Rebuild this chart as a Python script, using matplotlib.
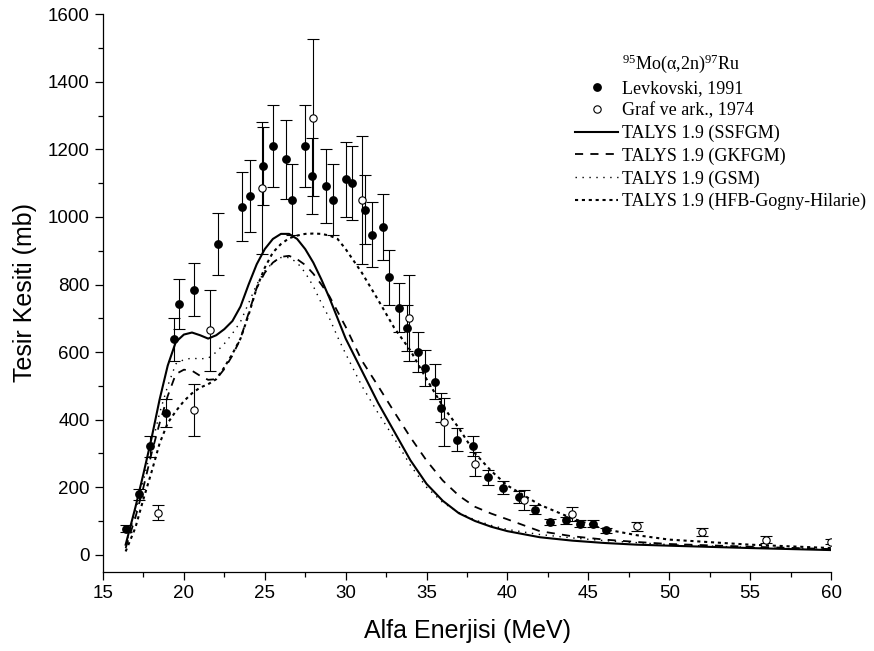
import numpy as np
import matplotlib as mpl
import matplotlib.pyplot as plt
from matplotlib.lines import Line2D
from matplotlib.ticker import MultipleLocator

mpl.rc('font', family='Liberation Sans', size=13.5)
mpl.rc('mathtext', fontset='custom', rm='Liberation Serif', it='Liberation Serif:italic')

#%% data
# Levkovski, 1991
lev_x = [16.4, 17.25, 17.9, 18.9, 19.4, 19.7, 20.6, 22.1, 23.6, 24.1, 24.9, 25.5, 26.3, 26.7,
         27.5, 27.9, 28.8, 29.2, 30.0, 30.4, 31.2, 31.6, 32.3, 32.7, 33.3, 33.8, 34.5, 34.9,
         35.5, 35.9, 36.9, 37.9, 38.8, 39.7, 40.7, 41.7, 42.6, 43.6, 44.5, 45.3, 46.1]
lev_y = [77, 179, 321, 420, 638, 743, 785, 921, 1031, 1062, 1151, 1211, 1171, 1051,
         1211, 1121, 1091, 1051, 1111, 1101, 1021, 948, 970, 821, 732, 671, 600, 553,
         513, 436, 341, 323, 229, 199, 171, 133, 97, 102, 92, 92, 72]
lev_err = [10, 16, 30, 42, 64, 74, 78, 92, 103, 106, 115, 121, 117, 105,
           121, 112, 109, 105, 111, 110, 102, 95, 97, 82, 73, 67, 60, 54,
           51, 43, 34, 30, 22, 20, 17, 13, 10, 10, 10, 10, 8]

# Graf ve ark., 1974
graf_x = [18.4, 20.6, 21.6, 24.8, 28.0, 31.0, 33.9, 36.1, 38.0, 41.0, 44.0, 48.0, 52.0, 56.0, 60.0]
graf_y = [125, 430, 665, 1086, 1294, 1051, 701, 393, 268, 163, 121, 84, 67, 45, 39]
graf_err = [22, 77, 120, 195, 233, 189, 126, 70, 35, 29, 20, 14, 12, 10, 8]

# TALYS 1.9 curves
e_talys = [16.4, 17.0, 17.5, 18.0, 18.5, 19.0, 19.5, 20.0, 20.5, 21.0, 21.5, 22.0, 22.5, 23.0,
           23.5, 24.0, 24.5, 25.0, 25.5, 26.0, 26.5, 27.0, 27.5, 28.0, 28.5, 29.0, 29.5, 30.0,
           31, 32, 33, 34, 35, 36, 37, 38, 39, 40, 42, 44, 46, 48, 50, 55, 60]
ssfgm = [30, 140, 240, 345, 460, 560, 630, 652, 658, 650, 640, 650, 668, 692,
         735, 800, 860, 905, 935, 950, 950, 935, 905, 865, 815, 760, 700, 640,
         545, 450, 365, 280, 210, 160, 123, 100, 83, 70, 52, 42, 35, 30, 27, 20, 14]
gkfgm = [20, 110, 200, 300, 390, 470, 535, 548, 545, 530, 518, 520, 550, 590,
         640, 715, 790, 835, 865, 882, 885, 875, 858, 832, 800, 765, 720, 675,
         575, 500, 423, 348, 279, 220, 175, 142, 122, 105, 70, 55, 45, 38, 32, 24, 17]
gsm = [30, 125, 220, 320, 420, 500, 565, 578, 582, 580, 582, 600, 625, 655,
       690, 745, 800, 840, 865, 880, 880, 865, 835, 795, 745, 700, 645, 595,
       500, 420, 345, 265, 200, 155, 125, 103, 87, 75, 60, 50, 42, 36, 30, 22, 15]
hfb = [10, 80, 165, 245, 330, 390, 425, 455, 478, 495, 505, 520, 555, 595,
       640, 710, 790, 850, 895, 920, 937, 945, 950, 951, 950, 945, 935, 905,
       835, 755, 672, 605, 520, 440, 375, 300, 248, 205, 148, 108, 76, 58, 45, 30, 20]

# line styles for the four TALYS calculations
st_ss = dict(color='k', lw=1.5, ls='-')
st_gk = dict(color='k', lw=1.3, ls=(0, (4.5, 4.0)))
st_gsm = dict(color='k', lw=1.0, ls=(0, (1, 4)))
st_hfb = dict(color='k', lw=1.5, ls=(0, (1.5, 1.8)))

#%% plot
fig = plt.figure(figsize=(8.74, 6.51), dpi=100)
ax = fig.add_axes([103/874, 1-571.7/651, 728/874, (571.7-14.3)/651])

ax.plot(e_talys, ssfgm, zorder=2, **st_ss)
ax.plot(e_talys, gkfgm, zorder=2, **st_gk)
ax.plot(e_talys, gsm, zorder=2, **st_gsm)
ax.plot(e_talys, hfb, zorder=2, **st_hfb)

ax.errorbar(lev_x, lev_y, yerr=lev_err, fmt='o', ms=5.3, mfc='k', mec='k',
            ecolor='k', elinewidth=0.8, capsize=4.5, capthick=0.8, zorder=3)
ax.errorbar(graf_x, graf_y, yerr=graf_err, fmt='o', ms=5.3, mfc='white', mec='k', mew=0.8,
            ecolor='k', elinewidth=0.8, capsize=4.5, capthick=0.8, zorder=4)

ax.set_xlim(15, 60)
ax.set_ylim(-50, 1600)
ax.xaxis.set_major_locator(MultipleLocator(5))
ax.xaxis.set_minor_locator(MultipleLocator(2.5))
ax.yaxis.set_major_locator(MultipleLocator(200))
ax.yaxis.set_minor_locator(MultipleLocator(100))
ax.tick_params(which='major', direction='out', length=6, width=0.9)
ax.tick_params(which='minor', direction='out', length=3.5, width=0.9)
for s in ['top', 'right']:
    ax.spines[s].set_visible(False)
for s in ['left', 'bottom']:
    ax.spines[s].set_linewidth(0.9)

ax.set_xlabel('Alfa Enerjisi (MeV)', fontsize=18, labelpad=12)
ax.set_ylabel('Tesir Kesiti (mb)', fontsize=18, labelpad=8)

handles = [
    Line2D([], [], ls='none'),
    Line2D([], [], ls='none', marker='o', ms=5.3, mfc='k', mec='k'),
    Line2D([], [], ls='none', marker='o', ms=5.3, mfc='white', mec='k', mew=0.8),
    Line2D([], [], **st_ss),
    Line2D([], [], **st_gk),
    Line2D([], [], **st_gsm),
    Line2D([], [], **st_hfb),
]
labels = [
    r'$^{\mathrm{95}}$Mo(α,2n)$^{\mathrm{97}}$Ru',
    'Levkovski, 1991',
    'Graf ve ark., 1974',
    'TALYS 1.9 (SSFGM)',
    'TALYS 1.9 (GKFGM)',
    'TALYS 1.9 (GSM)',
    'TALYS 1.9 (HFB-Gogny-Hilarie)',
]
leg = ax.legend(handles, labels, loc='upper left', bbox_to_anchor=(575/874, 1-52/651),
                bbox_transform=fig.transFigure, frameon=False, borderpad=0,
                borderaxespad=0, handlelength=2.4, handletextpad=0.2, labelspacing=0.3,
                prop={'family': 'Liberation Serif', 'size': 13})

fig.savefig('out.png', dpi=100)
